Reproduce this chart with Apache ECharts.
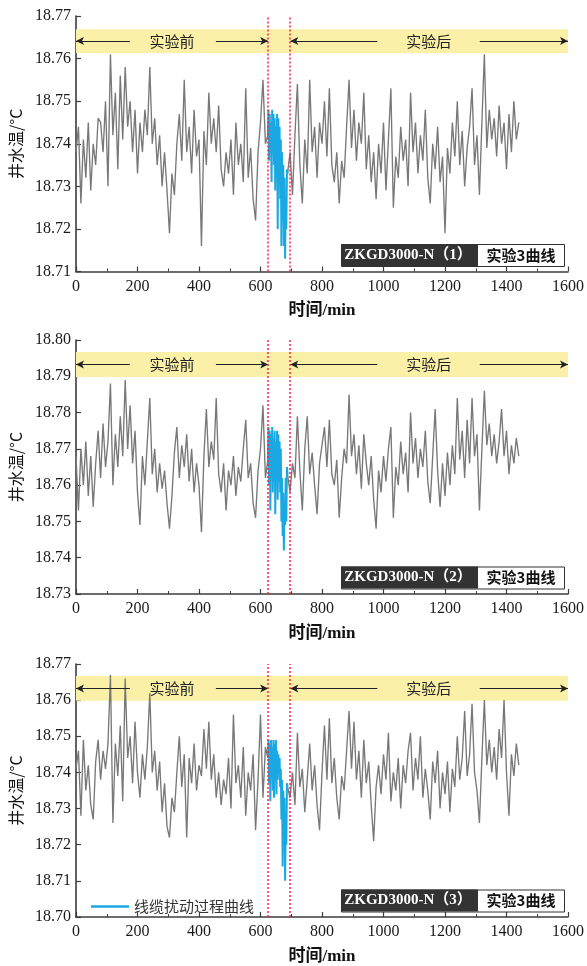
<!DOCTYPE html>
<html><head><meta charset="utf-8">
<script src="https://cdn.jsdelivr.net/npm/echarts@6/dist/echarts.min.js"></script>
<style>html,body{margin:0;padding:0;background:#fff}#c{width:587px;height:966px}</style>
</head><body><div id="c"></div>
<script>
// ---- data ----
const grayStep = 8;
const beforeStart = 0;     // minutes
const afterStart = 688;    // minutes
const blueStart = 624, blueStep = 2;

const before1 = [18.738,18.744,18.726,18.741,18.732,18.745,18.729,18.740,18.735,18.746,
18.745,18.738,18.750,18.730,18.761,18.742,18.752,18.734,18.756,18.741,
18.758,18.744,18.750,18.738,18.748,18.733,18.745,18.738,18.748,18.742,
18.758,18.740,18.746,18.735,18.742,18.730,18.738,18.729,18.719,18.733,
18.728,18.740,18.747,18.736,18.755,18.738,18.744,18.733,18.748,18.737,
18.741,18.716,18.743,18.735,18.752,18.740,18.746,18.738,18.749,18.734,
18.730,18.738,18.733,18.741,18.728,18.745,18.735,18.740,18.731,18.753,
18.732,18.739,18.727,18.722,18.738,18.745,18.755,18.740,18.742];
const after1 = [18.733,18.738,18.728,18.742,18.754,18.735,18.726,18.741,18.733,18.755,
18.738,18.744,18.732,18.745,18.740,18.750,18.737,18.753,18.735,18.731,
18.738,18.726,18.736,18.732,18.744,18.755,18.739,18.748,18.736,18.745,
18.740,18.752,18.734,18.742,18.731,18.738,18.727,18.740,18.733,18.745,
18.729,18.741,18.753,18.725,18.737,18.732,18.744,18.736,18.741,18.730,
18.752,18.738,18.745,18.733,18.742,18.736,18.748,18.732,18.726,18.740,
18.734,18.744,18.731,18.737,18.719,18.739,18.733,18.745,18.737,18.750,
18.735,18.743,18.730,18.739,18.744,18.753,18.735,18.742,18.728,18.745,
18.761,18.739,18.748,18.741,18.746,18.737,18.749,18.740,18.745,18.734,
18.747,18.738,18.750,18.741,18.745];
const blue1 = [18.742,18.748,18.736,18.747,18.740,18.745,18.731,18.748,18.738,18.747,18.735,
18.746,18.729,18.744,18.733,18.747,18.720,18.746,18.735,18.744,18.727,18.741,
18.716,18.738,18.722,18.735,18.716,18.732,18.713,18.727,18.720,18.734,18.733];

const before2 = [18.768,18.753,18.770,18.760,18.772,18.757,18.768,18.754,18.766,18.775,
18.762,18.777,18.765,18.772,18.788,18.760,18.774,18.765,18.779,18.768,
18.789,18.770,18.782,18.766,18.775,18.758,18.749,18.768,18.760,18.772,
18.784,18.763,18.770,18.758,18.766,18.759,18.764,18.755,18.748,18.757,
18.769,18.776,18.762,18.771,18.765,18.774,18.761,18.770,18.758,18.766,
18.760,18.747,18.768,18.781,18.765,18.772,18.767,18.784,18.763,18.758,
18.766,18.753,18.764,18.760,18.768,18.757,18.765,18.761,18.770,18.778,
18.762,18.766,18.755,18.751,18.764,18.770,18.782,18.762,18.767];
const after2 = [18.763,18.758,18.766,18.762,18.779,18.764,18.753,18.770,18.779,18.763,
18.769,18.760,18.752,18.766,18.771,18.776,18.765,18.778,18.763,18.760,
18.767,18.751,18.762,18.770,18.766,18.785,18.768,18.774,18.763,18.771,
18.759,18.774,18.766,18.760,18.768,18.756,18.748,18.764,18.758,18.768,
18.761,18.770,18.776,18.751,18.765,18.760,18.772,18.763,18.769,18.758,
18.780,18.766,18.773,18.762,18.770,18.765,18.775,18.761,18.755,18.768,
18.781,18.764,18.754,18.766,18.757,18.769,18.760,18.771,18.763,18.784,
18.767,18.775,18.762,18.778,18.766,18.784,18.768,18.774,18.753,18.770,
18.786,18.771,18.777,18.768,18.774,18.766,18.772,18.781,18.768,18.775,
18.763,18.771,18.766,18.773,18.768];
const blue2 = [18.767,18.776,18.760,18.775,18.753,18.774,18.762,18.776,18.758,18.773,18.761,
18.775,18.752,18.772,18.761,18.775,18.756,18.774,18.761,18.772,18.758,18.770,
18.750,18.762,18.746,18.758,18.742,18.755,18.749,18.762,18.750,18.765,18.763];

const before3 = [18.741,18.746,18.728,18.749,18.735,18.742,18.731,18.727,18.743,18.749,
18.738,18.746,18.741,18.748,18.767,18.726,18.748,18.739,18.753,18.732,
18.766,18.744,18.750,18.737,18.754,18.740,18.733,18.745,18.738,18.747,
18.762,18.740,18.746,18.735,18.743,18.729,18.737,18.725,18.722,18.733,
18.729,18.740,18.750,18.736,18.745,18.722,18.744,18.737,18.748,18.735,
18.742,18.739,18.752,18.741,18.754,18.738,18.745,18.733,18.740,18.731,
18.738,18.734,18.744,18.730,18.756,18.737,18.742,18.733,18.747,18.728,
18.740,18.735,18.745,18.724,18.738,18.756,18.733,18.747,18.744];
const after3 = [18.736,18.733,18.740,18.731,18.751,18.736,18.741,18.729,18.738,18.748,
18.735,18.742,18.731,18.724,18.740,18.753,18.738,18.755,18.737,18.744,
18.733,18.727,18.739,18.735,18.746,18.757,18.741,18.754,18.738,18.746,
18.733,18.749,18.737,18.743,18.731,18.721,18.736,18.742,18.734,18.745,
18.738,18.751,18.732,18.740,18.735,18.744,18.730,18.742,18.737,18.746,
18.751,18.735,18.744,18.738,18.750,18.733,18.741,18.735,18.727,18.743,
18.737,18.746,18.730,18.740,18.734,18.743,18.729,18.741,18.736,18.750,
18.738,18.744,18.757,18.739,18.745,18.759,18.740,18.735,18.726,18.744,
18.760,18.742,18.749,18.740,18.747,18.738,18.752,18.744,18.760,18.740,
18.728,18.745,18.739,18.748,18.742];
const blue3 = [18.744,18.749,18.737,18.748,18.732,18.749,18.740,18.747,18.735,18.749,18.733,
18.748,18.738,18.749,18.734,18.746,18.738,18.745,18.741,18.744,18.736,18.741,
18.727,18.738,18.714,18.735,18.722,18.733,18.710,18.726,18.720,18.737,18.736];

const yRanges = [[18.71,18.77],[18.73,18.80],[18.70,18.77]];
const bandRanges = [[18.7613,18.7669],[18.7898,18.7967],[18.7598,18.7667]];
const xMin = 0, xMax = 1600, xInterval = 200;
const phaseBounds = [0, 625, 695, 1600];
const phaseNames = ['实验前', '实验后'];
const arrowSegs = [[175,0],[455,625],[980,697],[1313,1600]];
const redLines = [625, 695];
const panelTags = ['ZKGD3000-N（1）','ZKGD3000-N（2）','ZKGD3000-N（3）'];
const tagText = '实验3曲线';
const legendName = '线缆扰动过程曲线';
const xName = '时间/min';
const yName = '井水温/°C';

// ---- layout / style ----
const befores = [before1, before2, before3];
const afters = [after1, after2, after3];
const blues = [blue1, blue2, blue3];
const gridTops = [16, 340, 664];
const gridHeights = [255.5, 254, 253];
const GL = 76, GR = 16;
const GRAY = '#787878', BLUE = '#19a8e2', BAND = '#fbf0a8', AXIS = '#3c3c3c';
const SERIF = '"Liberation Serif","Times New Roman","Noto Sans CJK SC",serif';
const CJK = '"Noto Sans CJK SC","Liberation Serif",sans-serif';

const grids = [], xAxes = [], yAxes = [], series = [], graphics = [];
for (let p = 0; p < 3; p++) {
  grids.push({left: GL, right: GR, top: gridTops[p], height: gridHeights[p]});
  xAxes.push({
    gridIndex: p, type: 'value', min: xMin, max: xMax, interval: xInterval,
    name: xName, nameLocation: 'middle', nameGap: 31,
    nameTextStyle: {fontFamily: SERIF, fontWeight: 'bold', fontSize: 17, color: '#111'},
    axisLine: {lineStyle: {color: AXIS, width: 1.6}},
    axisTick: {inside: true, length: 5, lineStyle: {color: AXIS, width: 1.2}},
    minorTick: {show: true, splitNumber: 2, length: 3, lineStyle: {color: AXIS, width: 1}},
    axisLabel: {fontFamily: SERIF, fontSize: 16, color: '#1a1a1a', margin: 7,
      formatter: v => String(v)},
    splitLine: {show: false}
  });
  yAxes.push({
    gridIndex: p, type: 'value', min: yRanges[p][0], max: yRanges[p][1], interval: 0.01,
    name: yName, nameLocation: 'middle', nameGap: 50, nameRotate: 90,
    nameTextStyle: {fontFamily: CJK, fontSize: 16, color: '#111'},
    axisLine: {show: true, lineStyle: {color: AXIS, width: 1.6}},
    axisTick: {show: true, inside: true, length: 5, lineStyle: {color: AXIS, width: 1.2}},
    axisLabel: {fontFamily: SERIF, fontSize: 16, color: '#1a1a1a', margin: 5,
      formatter: v => v.toFixed(2)},
    splitLine: {show: false}
  });
  const yc = (bandRanges[p][0] + bandRanges[p][1]) / 2;
  const b0 = bandRanges[p][0], b1 = bandRanges[p][1];
  const lineStyle = {color: GRAY, width: 1.35};
  series.push({
    type: 'line', xAxisIndex: p, yAxisIndex: p, silent: true, symbol: 'none', z: 3,
    data: befores[p].map((v, i) => [beforeStart + i * grayStep, v]),
    lineStyle: lineStyle,
    markArea: {
      silent: true, itemStyle: {color: BAND},
      label: {show: true, position: 'inside', fontFamily: CJK, fontSize: 15, color: '#222'},
      data: [
        [{xAxis: phaseBounds[0], yAxis: b0, name: phaseNames[0]}, {xAxis: phaseBounds[1], yAxis: b1}],
        [{xAxis: phaseBounds[1], yAxis: b0, name: ''}, {xAxis: phaseBounds[2], yAxis: b1}],
        [{xAxis: phaseBounds[2], yAxis: b0, name: phaseNames[1]}, {xAxis: phaseBounds[3], yAxis: b1}]
      ]
    },
    markLine: {
      silent: true, symbol: ['none', 'arrow'], symbolSize: [6, 8],
      lineStyle: {color: '#222', width: 1, type: 'solid'},
      label: {show: false},
      data: arrowSegs.map(s => [{coord: [s[0], yc]}, {coord: [s[1], yc]}])
    }
  });
  series.push({
    type: 'line', xAxisIndex: p, yAxisIndex: p, silent: true, symbol: 'none', z: 3,
    data: afters[p].map((v, i) => [afterStart + i * grayStep, v]),
    lineStyle: lineStyle
  });
  series.push({
    name: legendName, type: 'line', xAxisIndex: p, yAxisIndex: p, silent: true, symbol: 'none', z: 4,
    data: blues[p].map((v, i) => [blueStart + i * blueStep, v]),
    lineStyle: {color: BLUE, width: 2}, itemStyle: {color: BLUE},
    markLine: {
      silent: true, symbol: 'none', label: {show: false},
      lineStyle: {color: '#ff2040', width: 1.5, type: [2, 2]},
      data: redLines.map(x => ({xAxis: x}))
    }
  });
  // tag box
  const bottom = gridTops[p] + gridHeights[p];
  const top = bottom - 27.5;
  graphics.push({type: 'rect', left: 341, top: top, z: 10,
    shape: {width: 223, height: 22}, style: {fill: '#fff', stroke: '#333', lineWidth: 1}});
  graphics.push({type: 'rect', left: 341, top: top, z: 11,
    shape: {width: 137, height: 22}, style: {fill: '#333'}});
  graphics.push({type: 'text', x: 408, y: top + 11, z: 12,
    style: {text: panelTags[p], fill: '#fff', font: 'bold 15px ' + SERIF, align: 'center', verticalAlign: 'middle'}});
  graphics.push({type: 'text', x: 521, y: top + 11, z: 12,
    style: {text: tagText, fill: '#111', font: 'bold 15px ' + CJK, align: 'center', verticalAlign: 'middle'}});
}

const chart = echarts.init(document.getElementById('c'), null, {renderer: 'canvas'});
chart.setOption({
  animation: false,
  backgroundColor: '#fff',
  grid: grids, xAxis: xAxes, yAxis: yAxes, series: series,
  legend: {data: [{name: legendName, icon: 'rect'}], left: 86, top: 894, itemWidth: 38, itemHeight: 2.5,
    itemGap: 10, textStyle: {fontFamily: CJK, fontSize: 15, color: '#333'}},
  graphic: graphics
});
</script></body></html>
